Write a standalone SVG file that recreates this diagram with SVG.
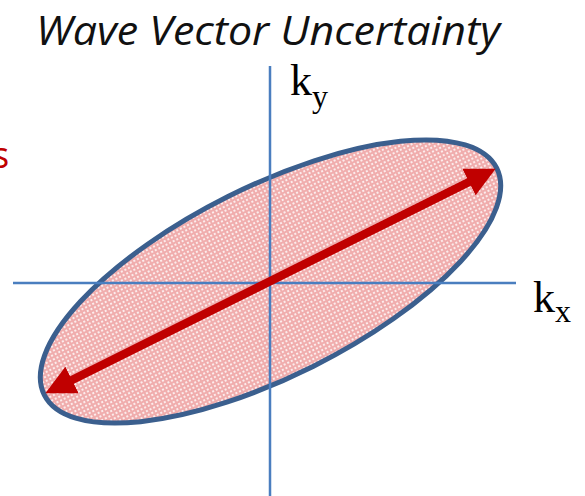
<svg xmlns="http://www.w3.org/2000/svg" width="585" height="496" viewBox="0 0 585 496">
<style>
.axis{stroke:#4a7ebf;stroke-width:2.5;fill:none}
.lbl{font-family:"Liberation Serif",serif;fill:#000}
.title{font-family:"Open Sans","DejaVu Sans",sans-serif;font-style:italic;font-size:40px;fill:#111}
</style>
<defs>
<pattern id="grid" width="4" height="4" patternUnits="userSpaceOnUse">
<rect width="4" height="4" fill="#f0adad"/>
<rect x="1" y="1" width="2" height="2" fill="#fbe6e6"/>
<rect x="1.5" y="1.5" width="1" height="1" fill="#ffffff"/>
</pattern>
<marker id="ah" viewBox="0 0 10 10" refX="3" refY="5" markerWidth="3.5" markerHeight="3.5" orient="auto-start-reverse" markerUnits="strokeWidth">
<path d="M0,0 L10,5 L0,10 z" fill="#c00000"/>
</marker>
</defs>
<rect width="585" height="496" fill="#ffffff"/>
<text class="title" x="36" y="45" textLength="464" lengthAdjust="spacingAndGlyphs">Wave Vector Uncertainty</text>
<text x="-8" y="168" style="font-family:'Open Sans',sans-serif;font-size:36px;fill:#c00000">s</text>
<g id="ellipse">
<ellipse cx="270.5" cy="281.5" rx="253" ry="95" transform="rotate(-26.6 270.5 281.5)" fill="url(#grid)" stroke="#3b5f8e" stroke-width="5"/>
</g>
<g id="connectors">
<line class="axis" x1="270" y1="66" x2="270" y2="496"/>
<line class="axis" x1="13" y1="283" x2="516" y2="283"/>
<line x1="64" y1="384" x2="477" y2="178" stroke="#c00000" stroke-width="8.5" marker-start="url(#ah)" marker-end="url(#ah)"/>
</g>
<g id="ky">
<text class="lbl" x="290" y="95" font-size="44">k<tspan font-size="32" dy="12">y</tspan></text>
</g>
<g id="kx">
<text class="lbl" x="533" y="312" font-size="44">k<tspan font-size="32" dy="10">x</tspan></text>
</g>
</svg>
